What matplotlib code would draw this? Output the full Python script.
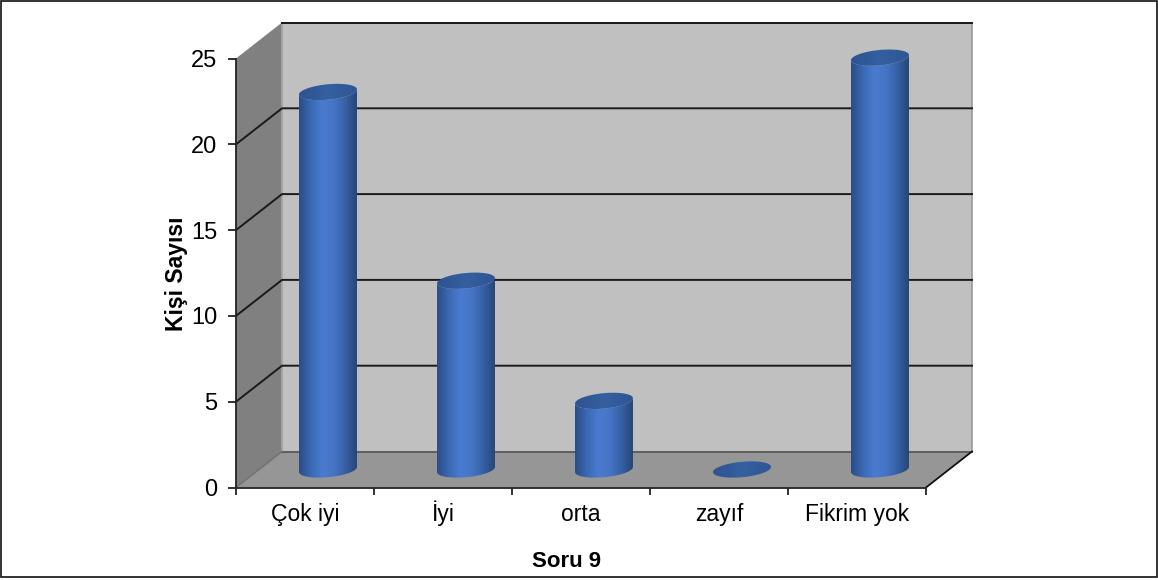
import numpy as np
import matplotlib
matplotlib.use("Agg")
import matplotlib.pyplot as plt
from matplotlib.colors import LinearSegmentedColormap
from matplotlib.patches import Polygon, Rectangle

# =====================================
# DATA
# =====================================

categories = ["Çok iyi", "İyi", "orta", "zayıf", "Fikrim yok"]
values = [22, 11, 4, 0, 24]
y_ticks = [0, 5, 10, 15, 20, 25]

# =====================================
# SETTINGS
# =====================================

W, H = 1158, 580
PX_PER_UNIT = 17.16
Y_MAX = 28              # head room above 25, images get cropped at the axes box
DEPTH_X = 46 / 138      # wall depth in category units
DEPTH_Y = 36 / PX_PER_UNIT    # wall depth in value units
RX = 0.21
RY = 0.45
TILT = 0.15

plt.rcParams["font.family"] = ["Liberation Sans", "DejaVu Sans"]

fig = plt.figure(figsize=(W / 100, H / 100), dpi=100)
ax_h = Y_MAX * PX_PER_UNIT
ax = fig.add_axes([236 / W, 1 - 487.5 / H, 690 / W, ax_h / H])
ax.patch.set_alpha(0)

# frame round the picture
fig.add_artist(Rectangle((1.0 / W, 3.5 / H), 1155.5 / W, 575.5 / H,
                         transform=fig.transFigure, fill=False,
                         edgecolor="#111111", linewidth=1.2))

n = len(categories)
top = y_ticks[-1]

# =====================================
# WALLS AND FLOOR
# =====================================

ax.add_patch(Polygon([(DEPTH_X, DEPTH_Y), (n + DEPTH_X, DEPTH_Y),
                      (n + DEPTH_X, top + DEPTH_Y), (DEPTH_X, top + DEPTH_Y)],
                     facecolor="#c0c0c0", edgecolor="#9a9a9a", linewidth=1.2,
                     clip_on=False, zorder=1))
ax.add_patch(Polygon([(0, 0), (DEPTH_X, DEPTH_Y),
                      (DEPTH_X, top + DEPTH_Y), (0, top)],
                     facecolor="#808080", edgecolor="none",
                     clip_on=False, zorder=1))
ax.add_patch(Polygon([(0, 0), (n, 0), (n + DEPTH_X, DEPTH_Y), (DEPTH_X, DEPTH_Y)],
                     facecolor="#969696", edgecolor="none",
                     clip_on=False, zorder=1))

ax.plot([DEPTH_X, DEPTH_X], [DEPTH_Y, top + DEPTH_Y], color="#a8a8a8", lw=1.2,
        clip_on=False, zorder=2)
ax.plot([DEPTH_X, n + DEPTH_X], [DEPTH_Y, DEPTH_Y], color="#5a5a5a", lw=1.3,
        clip_on=False, zorder=2)
ax.plot([0, DEPTH_X], [0, DEPTH_Y], color="#707070", lw=1.0,
        clip_on=False, zorder=2)
ax.plot([n, n + DEPTH_X], [0, DEPTH_Y], color="#111111", lw=1.3,
        clip_on=False, zorder=2)

for v in y_ticks[1:-1]:
    ax.plot([0, DEPTH_X, n + DEPTH_X], [v, v + DEPTH_Y, v + DEPTH_Y],
            color="#1a1a1a", lw=1.4, clip_on=False, zorder=2)
# the top line only runs along the back wall
ax.plot([DEPTH_X, n + DEPTH_X], [top + DEPTH_Y, top + DEPTH_Y],
        color="#1a1a1a", lw=1.4, clip_on=False, zorder=2)

# =====================================
# CYLINDERS
# =====================================

side_cmap = LinearSegmentedColormap.from_list(
    "side", ["#2b4d86", "#3a68b2", "#4a7bd0", "#4675c6", "#3760a6", "#274676"])
cap_cmap = LinearSegmentedColormap.from_list(
    "cap", ["#2d5291", "#35609f", "#2f5597"])

gradient = np.linspace(0, 1, 128).reshape(1, -1)
t_low = np.linspace(np.pi, 2 * np.pi, 60)
t_full = np.linspace(0, 2 * np.pi, 120)


def ring(cx, cy, t):
    return np.column_stack([cx + RX * np.cos(t),
                            cy + RY * np.sin(t) + TILT * np.cos(t)])


for i, v in enumerate(values):
    cx = i + 0.5 + DEPTH_X / 2
    base = DEPTH_Y / 2

    if v > 0:
        outline = np.vstack([ring(cx, base, t_low), ring(cx, base + v, t_low[::-1])])
        clip = Polygon(outline, transform=ax.transData, facecolor="none", edgecolor="none")
        ax.add_patch(clip)
        im = ax.imshow(gradient, cmap=side_cmap, aspect="auto", zorder=3,
                       extent=[cx - RX, cx + RX, base - 1, base + v + 1])
        im.set_clip_path(clip)

    cap = Polygon(ring(cx, base + v, t_full), transform=ax.transData,
                  facecolor="none", edgecolor="none")
    ax.add_patch(cap)
    im = ax.imshow(gradient, cmap=cap_cmap, aspect="auto", zorder=4,
                   extent=[cx - RX, cx + RX, base + v - 1, base + v + 1])
    im.set_clip_path(cap)

# =====================================
# AXES
# =====================================

ax.set_xlim(0, n)
ax.set_ylim(0, Y_MAX)

ax.spines["top"].set_visible(False)
ax.spines["right"].set_visible(False)
for side in ["left", "bottom"]:
    ax.spines[side].set_color("#222222")
    ax.spines[side].set_linewidth(1.3)
    ax.spines[side].set_zorder(5)
ax.spines["left"].set_bounds(0, top)

ax.set_yticks(y_ticks)
ax.tick_params(axis="y", length=6, width=1.3, color="#222222", pad=7.5, labelsize=17)

ax.set_xticks(range(n + 1))
ax.set_xticklabels([])
ax.set_xticks(np.arange(n) + 0.5, minor=True)
ax.set_xticklabels(categories, minor=True)
ax.tick_params(axis="x", which="major", length=5, width=1.3, color="#222222")
ax.tick_params(axis="x", which="minor", length=0, pad=24, labelsize=16.5)
for label in ax.get_xticklabels(minor=True):
    label.set_verticalalignment("baseline")

ax.set_xlabel("Soru 9", fontweight="bold", fontsize=16)
ax.xaxis.set_label_coords((567 - 236) / 690, (487.5 - 551) / ax_h)
ax.set_ylabel("Kişi Sayısı", fontweight="bold", fontsize=16.5)
ax.yaxis.set_label_coords((188 - 236) / 690, (487.5 - 274) / ax_h)

fig.savefig("out.png", dpi=100)
